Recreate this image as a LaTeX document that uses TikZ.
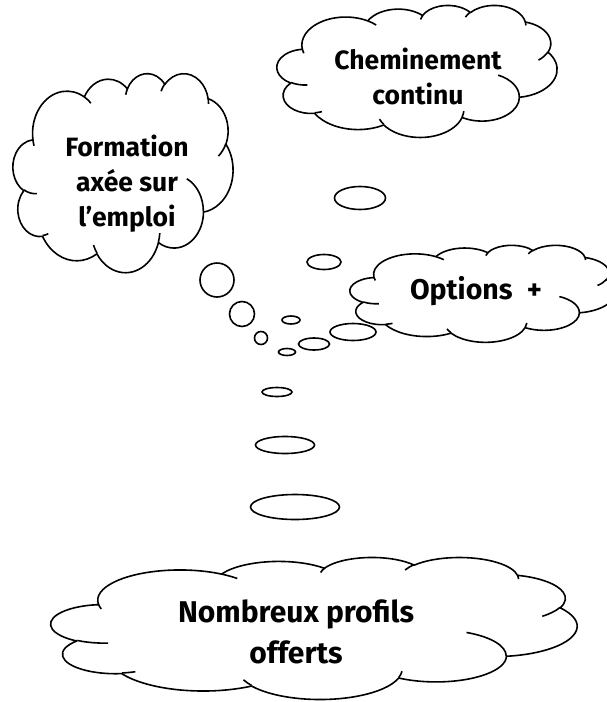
\documentclass[tikz,border=0pt]{standalone}
\usepackage{fontspec}
\setmainfont{Fira Sans}

\tikzset{
	cloudline/.style={draw=black, line width=1.6pt, line join=round},
	bubble/.style={draw=black, line width=1.6pt, fill=white},
	cloudtext/.style={font=\fontsize{26.5}{35}\selectfont\bfseries, align=center, inner sep=0pt},
}

% cloud outline: top left corner, then width/100 and height/100
\newcommand{\thoughtcloud}[4]{%
\begin{scope}[shift={(#1,#2)}, x=#3pt, y=-#4pt]
	\filldraw[cloudline, fill=white] (9.028,33.264)
		arc[start angle=172.25, end angle=300.36, x radius=15.632, y radius=21.273]
		arc[start angle=-152.02, end angle=-45.46, x radius=12.345, y radius=16.822]
		arc[start angle=-153.49, end angle=-37.33, x radius=10.104, y radius=13.762]
		arc[start angle=-139.72, end angle=-10.21, x radius=11.243, y radius=15.266]
		arc[start angle=-74.77, end angle=23.21, x radius=12.345, y radius=16.836]
		arc[start angle=-37.51, end angle=81.86, x radius=15.683, y radius=21.343]
		arc[start angle=0.46, end angle=121.98, x radius=13.391, y radius=18.211]
		arc[start angle=16.84, end angle=146.22, x radius=15.630, y radius=21.331]
		arc[start angle=58.99, end angle=150.17, x radius=17.870, y radius=24.405]
		arc[start angle=83.31, end angle=223.10, x radius=10.093, y radius=13.699]
		arc[start angle=120.36, end angle=264.11, x radius=10.058, y radius=13.762]
		-- cycle;
	% hooks
	\draw[cloudline] (10.863,60.595) arc[start angle=85.55, end angle=120.36, x radius=10.058, y radius=13.762];
	\draw[cloudline] (16.037,80.785) arc[start angle=68.23, end angle=83.31, x radius=10.093, y radius=13.699];
	\draw[cloudline] (38.144,90.486) arc[start angle=146.22, end angle=158.47, x radius=15.630, y radius=21.331];
	\draw[cloudline] (66.729,80.442) arc[start angle=4.74, end angle=16.84, x radius=15.630, y radius=21.331];
	\draw[cloudline] (79.002,53.134) arc[start angle=-64.03, end angle=0.46, x radius=13.391, y radius=18.211];
	\draw[cloudline] (96.755,35.542) arc[start angle=23.21, end angle=49.64, x radius=12.345, y radius=16.836];
	\draw[cloudline] (88.713,12.560) arc[start angle=-10.21, end angle=0.82, x radius=11.243, y radius=15.266];
	\draw[cloudline] (67.310,9.148) arc[start angle=-156.29, end angle=-139.72, x radius=11.243, y radius=15.266];
	\draw[cloudline] (51.252,10.926) arc[start angle=-167.73, end angle=-153.49, x radius=10.104, y radius=13.762];
	\draw[cloudline] (32.407,12.019) arc[start angle=-59.64, end angle=-45.74, x radius=15.632, y radius=21.273];
	\draw[cloudline] (9.553,36.549) arc[start angle=163.19, end angle=172.25, x radius=15.632, y radius=21.273];
\end{scope}}

\begin{document}
\begin{tikzpicture}[x=1pt, y=-1pt]
	\useasboundingbox (0,0) rectangle (607,702);

	\thoughtcloud{277}{5}{2.80}{1.32}
	\thoughtcloud{13}{73}{2.20}{1.99}
	\thoughtcloud{350}{245}{2.65}{0.97}
	\thoughtcloud{51}{557}{5.26}{1.42}

	\node[cloudtext] (cheminement) at (418,76) {Cheminement\\continu};
	\node[cloudtext] (formation) at (127,184) {Formation\\axée sur\\l’emploi};
	\node[cloudtext, font=\fontsize{28.5}{38}\selectfont\bfseries] (options) at (476,291) {Options\hspace{0.5em}+};
	\node[cloudtext, font=\fontsize{30}{41}\selectfont\bfseries] (profils) at (296,632) {Nombreux profils\\offerts};

	% bubbles
	\draw[bubble] (360,198) ellipse [x radius=25.5, y radius=11.5];
	\draw[bubble] (324,262) ellipse [x radius=17, y radius=7.5];
	\draw[bubble] (217,280) circle [radius=17];
	\draw[bubble] (242,314) circle [radius=12.5];
	\draw[bubble] (291,320) ellipse [x radius=9, y radius=4];
	\draw[bubble] (261,338) circle [radius=6.5];
	\draw[bubble] (287,352) ellipse [x radius=8.5, y radius=3.5];
	\draw[bubble] (314,344) ellipse [x radius=15.5, y radius=6];
	\draw[bubble] (353,332) ellipse [x radius=23, y radius=8.5];
	\draw[bubble] (277,392) ellipse [x radius=15, y radius=4.5];
	\draw[bubble] (285,445) ellipse [x radius=29.5, y radius=8.5];
	\draw[bubble] (295,507) ellipse [x radius=44.5, y radius=12.5];
\end{tikzpicture}
\end{document}
